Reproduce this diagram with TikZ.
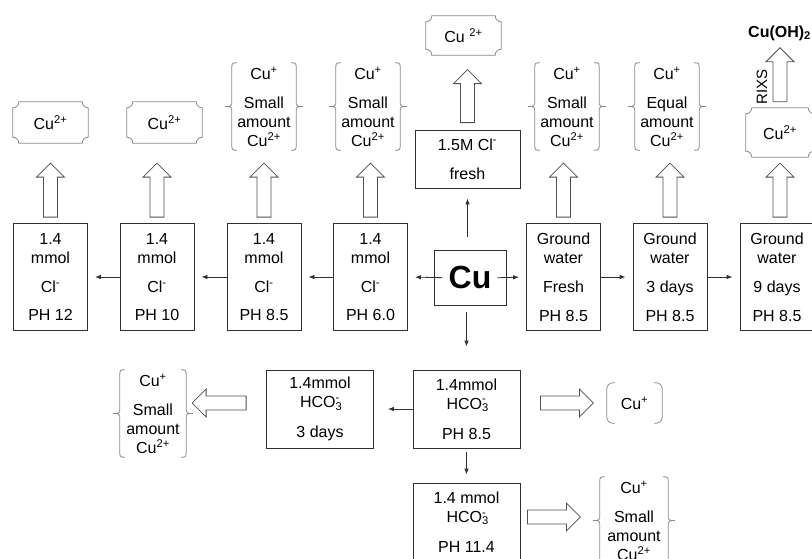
\documentclass[tikz,border=0pt]{standalone}
\usepackage{fontspec}
\setmainfont{Liberation Sans}
\usepackage{tikz}
\definecolor{bracegray}{HTML}{8A8A8A}
\definecolor{boxgray}{HTML}{303030}
\usetikzlibrary{positioning, arrows.meta, calc, shapes}
\tikzstyle{arrow} = [->,>={Latex[length=6pt,width=4.5pt]}, line width=0.8pt, draw=boxgray]

% fat white arrow: direction, start point, length
\newcommand{\hollowarrow}[3]{%
  \draw[hollow, shift={#2}, rotate=#1] (0,-7) -- (#3-14,-7) -- (#3-14,-14) -- (#3,0)
    -- (#3-14,14) -- (#3-14,7) -- (0,7) -- cycle;}
% curly braces on both sides of a node
\newcommand{\bracepair}[1]{%
  \draw[braceline] ([xshift=12pt]#1.north west) .. controls ([xshift=7pt]#1.north west) .. ([xshift=7pt,yshift=-7pt]#1.north west)
    -- ([xshift=7pt,yshift=7pt]#1.west) .. controls ([xshift=7pt]#1.west) .. (#1.west)
    .. controls ([xshift=7pt]#1.west) .. ([xshift=7pt,yshift=-7pt]#1.west)
    -- ([xshift=7pt,yshift=7pt]#1.south west) .. controls ([xshift=7pt]#1.south west) .. ([xshift=12pt]#1.south west);
  \draw[braceline] ([xshift=-12pt]#1.north east) .. controls ([xshift=-7pt]#1.north east) .. ([xshift=-7pt,yshift=-7pt]#1.north east)
    -- ([xshift=-7pt,yshift=7pt]#1.east) .. controls ([xshift=-7pt]#1.east) .. (#1.east)
    .. controls ([xshift=-7pt]#1.east) .. ([xshift=-7pt,yshift=-7pt]#1.east)
    -- ([xshift=-7pt,yshift=7pt]#1.south east) .. controls ([xshift=-7pt]#1.south east) .. ([xshift=-12pt]#1.south east);}
% round brackets on both sides of a node
\newcommand{\bracketpair}[1]{%
  \draw[braceline, rounded corners=6pt] ([xshift=8pt]#1.north west) -- (#1.north west) -- (#1.south west) -- ([xshift=8pt]#1.south west);
  \draw[braceline, rounded corners=6pt] ([xshift=-8pt]#1.north east) -- (#1.north east) -- (#1.south east) -- ([xshift=-8pt]#1.south east);}
% plaque outline (concave corners)
\newcommand{\plaqueframe}[1]{%
  \draw[braceline] ([yshift=-6pt]#1.north west) .. controls ([xshift=3.3pt,yshift=-6pt]#1.north west) and ([xshift=6pt,yshift=-3.3pt]#1.north west) .. ([xshift=6pt]#1.north west)
    -- ([xshift=-6pt]#1.north east) .. controls ([xshift=-6pt,yshift=-3.3pt]#1.north east) and ([xshift=-3.3pt,yshift=-6pt]#1.north east) .. ([yshift=-6pt]#1.north east)
    -- ([yshift=6pt]#1.south east) .. controls ([xshift=-3.3pt,yshift=6pt]#1.south east) and ([xshift=-6pt,yshift=3.3pt]#1.south east) .. ([xshift=-6pt]#1.south east)
    -- ([xshift=6pt]#1.south west) .. controls ([xshift=6pt,yshift=3.3pt]#1.south west) and ([xshift=3.3pt,yshift=6pt]#1.south west) .. ([yshift=6pt]#1.south west)
    -- cycle;}

\begin{document}
\begin{tikzpicture}[x=1pt,y=-1pt]
\tikzstyle{every node}=[font={\fontsize{16}{19}\selectfont}, inner sep=0pt]
\tikzstyle{box}=[draw=boxgray, line width=0.8pt, minimum width=74pt, minimum height=107pt, align=center]
\tikzstyle{hcobox}=[box, minimum width=107pt, minimum height=78pt]
\tikzstyle{cugroup}=[minimum width=78pt, minimum height=87pt, align=center]
\tikzstyle{plate}=[minimum width=75pt, minimum height=41pt]
\tikzstyle{braceline}=[draw=bracegray, line width=0.8pt]
\tikzstyle{hollow}=[draw=boxgray!85, fill=white, line width=0.8pt, line join=miter]

\clip (0,0) rectangle (812,558);

% main row
\node[box] (cl12) at (50.5,277) {1.4\\mmol\\[10pt]Cl\textsuperscript{-}\\[9pt]PH 12};
\node[box] (cl10) at (157,277) {1.4\\mmol\\[10pt]Cl\textsuperscript{-}\\[9pt]PH 10};
\node[box] (cl85) at (264,277) {1.4\\mmol\\[10pt]Cl\textsuperscript{-}\\[9pt]PH 8.5};
\node[box] (cl60) at (370.5,277) {1.4\\mmol\\[10pt]Cl\textsuperscript{-}\\[9pt]PH 6.0};
\node[box, minimum width=72pt, minimum height=55pt] (cu) at (470,277.5) {\fontsize{32}{32}\selectfont\textbf{Cu}};
\node[box] (gwfresh) at (563.5,277) {Ground\\water\\[10pt]Fresh\\[10pt]PH 8.5};
\node[box] (gw3) at (670,277) {Ground\\water\\[10pt]3 days\\[10pt]PH 8.5};
\node[box] (gw9) at (777,277) {Ground\\water\\[10pt]9 days\\[10pt]PH 8.5};

\node[box, minimum width=105pt, minimum height=58pt] (clfresh) at (467.5,159) {1.5M Cl\textsuperscript{-}\\[10pt]fresh};

% bicarbonate
\node[hcobox] (hco85) at (466.5,409) {1.4mmol\\HCO\rlap{\textsubscript{3}}\textsuperscript{-}\\[11pt]PH 8.5};
\node[hcobox] (hco3d) at (320,409) {1.4mmol\\HCO\rlap{\textsubscript{3}}\textsuperscript{-}\\[11pt]3 days};
\node[hcobox] (hco114) at (466.5,522) {1.4 mmol\\HCO\rlap{\textsubscript{3}}\textsuperscript{-}\\[11pt]PH 11.4};

% products
\node[plate] (res12) at (50.5,122.5) {Cu\textsuperscript{2+}};
\node[plate] (res10) at (164.5,122.5) {Cu\textsuperscript{2+}};
\node[cugroup] (res85) at (264,106.5) {Cu\textsuperscript{+}\\[10pt]Small\\amount\\Cu\textsuperscript{2+}};
\node[cugroup] (res60) at (368,106.5) {Cu\textsuperscript{+}\\[10pt]Small\\amount\\Cu\textsuperscript{2+}};
\node[cugroup] (resfresh) at (567,106.5) {Cu\textsuperscript{+}\\[10pt]Small\\amount\\Cu\textsuperscript{2+}};
\node[cugroup] (res3) at (667,106.5) {Cu\textsuperscript{+}\\[10pt]Equal\\amount\\Cu\textsuperscript{2+}};
\node[plate, minimum width=68pt, minimum height=49pt] (res9) at (780,132.5) {Cu\textsuperscript{2+}};
\node[plate, minimum height=39pt] (restop) at (463.5,35.5) {Cu \textsuperscript{2+}};
\node[anchor=west, font={\fontsize{16}{18}\selectfont\bfseries}] (cuoh) at (748,33) {Cu(OH)\textsubscript{2}};
\node[rotate=90, font={\fontsize{15}{18}\selectfont}] (rixs) at (762,87) {RIXS};

\node[cugroup, minimum width=80pt] (res3d) at (153,413.5) {Cu\textsuperscript{+}\\[10pt]Small\\amount\\Cu\textsuperscript{2+}};
\node[minimum width=55pt, minimum height=40pt] (res85b) at (634.5,403) {Cu\textsuperscript{+}};
\node[cugroup, minimum width=82pt] (res114) at (634,520.5) {Cu\textsuperscript{+}\\[10pt]Small\\amount\\Cu\textsuperscript{2+}};

\plaqueframe{res12}
\plaqueframe{res10}
\plaqueframe{res9}
\plaqueframe{restop}
\bracepair{res85}
\bracepair{res60}
\bracepair{resfresh}
\bracepair{res3}
\bracepair{res3d}
\bracepair{res114}
\bracketpair{res85b}

% thin arrows
\draw[arrow, shorten <=-9pt, shorten >=7pt] (cu.west) -- (cl60.east);
\draw[arrow, shorten >=7pt] (cl60.west) -- (cl85.east);
\draw[arrow, shorten >=7pt] (cl85.west) -- (cl10.east);
\draw[arrow, shorten >=7pt] (cl10.west) -- (cl12.east);
\draw[arrow, shorten <=-9pt, shorten >=7pt] (cu.east) -- (gwfresh.west);
\draw[arrow, shorten >=7pt] (gwfresh.east) -- (gw3.west);
\draw[arrow, shorten >=7pt] (gw3.east) -- (gw9.west);
\draw[arrow, shorten <=13pt, shorten >=10pt] (clfresh.south |- cu.north) -- (clfresh.south);
\draw[arrow, shorten <=7pt, shorten >=23pt] (hco85.north |- cu.south) -- (hco85.north);
\draw[arrow, shorten >=14pt] (hco85.west) -- (hco3d.east);
\draw[arrow, shorten <=4pt, shorten >=8pt] (hco85.south) -- (hco114.north);

% fat arrows
\hollowarrow{90}{($(cl12.north)+(0,-6)$)}{54}
\hollowarrow{90}{($(cl10.north)+(0,-6)$)}{54}
\hollowarrow{90}{($(cl85.north)+(0,-6)$)}{54}
\hollowarrow{90}{($(cl60.north)+(0,-6)$)}{54}
\hollowarrow{90}{($(gwfresh.north)+(0,-6)$)}{54}
\hollowarrow{90}{($(gw3.north)+(0,-6)$)}{54}
\hollowarrow{90}{($(gw9.north -| res9.south)+(0,-6)$)}{54}
\hollowarrow{90}{($(res9.north)+(0,-6)$)}{54}
\hollowarrow{90}{($(clfresh.north)+(0,-7)$)}{53}
\hollowarrow{180}{($(hco3d.west)+(-20,-6)$)}{54}
\hollowarrow{0}{($(hco85.east)+(20,-6)$)}{53}
\hollowarrow{0}{($(hco114.east)+(7,-5)$)}{53}
\end{tikzpicture}
\end{document}
